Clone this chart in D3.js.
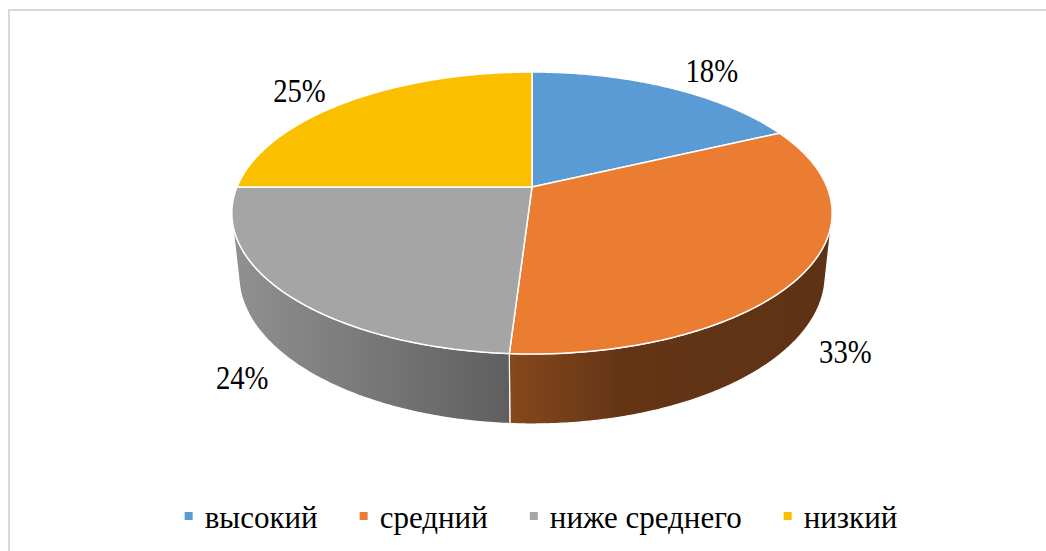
<!DOCTYPE html>
<html>
<head>
<meta charset="utf-8">
<script src="https://cdn.jsdelivr.net/npm/d3@7"></script>
<style>
  html, body { margin: 0; padding: 0; background: #fff; }
  svg { display: block; }
  svg text { font-family: "Liberation Serif", "Times New Roman", serif; }
</style>
</head>
<body>
<svg id="chart" width="1046" height="551"></svg>
<script>
// данные диаграммы
const categories = ["высокий", "средний", "ниже среднего", "низкий"];
const values = [18, 33, 24, 25];
const colors = ["#5B9BD5", "#EB7D32", "#A5A5A5", "#FAC000"];

// сдвиг подписей относительно края сектора (px)
const labelNudge = [[43, -17], [48, 13], [-50, 17], [-48, -11]];

const width = 1046, height = 551;

// параметры перспективы объёмного круга
const cx = 532, cy = 187;
const f = 1419.6, D = 4.812;
const sinA = 0.4617, cosA = 0.887;
const H = 0.239; // толщина

function project(x, y, h) {
    const yc = y * sinA + h * cosA;
    const zc = D + y * cosA - h * sinA;
    return [cx + f * x / zc, cy - f * yc / zc];
}
const rim = (a, h, r = 1) => project(r * Math.sin(a), r * Math.cos(a), h);

const svg = d3.select("#chart");

// рамка
svg.append("rect")
    .attr("x", 9).attr("y", 10)
    .attr("width", width).attr("height", height)
    .attr("fill", "none")
    .attr("stroke", "#D9D9D9")
    .attr("stroke-width", 2);

const pie = d3.pie().sort(null).value(d => d)(values);
const z = d3.scaleOrdinal().domain(categories).range(colors);
const line = d3.line().curve(d3.curveLinearClosed);

function arcPts(a0, a1, h) {
    const n = Math.max(2, Math.ceil((a1 - a0) / 0.01));
    return d3.range(n + 1).map(i => rim(a0 + (a1 - a0) * i / n, h));
}

// градиенты боковой стенки
const defs = svg.append("defs");
const shadeStops = [[0, 0.88], [0.46, 0.575], [0.65, 0.42], [1, 0.40]];
pie.forEach((p, i) => {
    const c = d3.color(colors[i]);
    const g = defs.append("linearGradient")
        .attr("id", "side" + i)
        .attr("gradientUnits", "userSpaceOnUse")
        .attr("x1", cx - 300).attr("x2", cx + 300)
        .attr("y1", 0).attr("y2", 0);
    shadeStops.forEach(([o, k]) => {
        g.append("stop")
            .attr("offset", o)
            .attr("stop-color", d3.rgb(c.r * k, c.g * k, c.b * k));
    });
});

// видимая часть стенки
const vis = Math.acos(-1 / (D * cosA));
const visA = vis, visB = 2 * Math.PI - vis;

const walls = svg.append("g");
pie.forEach((p, i) => {
    const a0 = Math.max(p.startAngle, visA);
    const a1 = Math.min(p.endAngle, visB);
    if (a1 <= a0) return;
    const pts = arcPts(a0, a1, 0).concat(arcPts(a0, a1, -H).reverse());
    walls.append("path")
        .attr("d", line(pts))
        .attr("fill", `url(#side${i})`)
        .attr("stroke", "#fff")
        .attr("stroke-width", 1.2)
        .attr("stroke-linejoin", "round");
});

// верхняя поверхность
svg.append("g")
    .selectAll("path")
    .data(pie)
    .join("path")
    .attr("d", p => line([project(0, 0, 0)].concat(arcPts(p.startAngle, p.endAngle, 0))))
    .attr("fill", (p, i) => z(categories[i]))
    .attr("stroke", "#fff")
    .attr("stroke-width", 1.5)
    .attr("stroke-linejoin", "round");

// подписи процентов
const total = d3.sum(values);
svg.append("g")
    .selectAll("text")
    .data(pie)
    .join("text")
    .attr("transform", (p, i) => {
        const m = (p.startAngle + p.endAngle) / 2;
        const front = Math.cos(m) < 0;
        const [x, y] = rim(m, front ? -H : 0);
        return `translate(${x + labelNudge[i][0]},${y + labelNudge[i][1]}) scale(0.87,1)`;
    })
    .attr("text-anchor", "middle")
    .attr("dy", "0.35em")
    .style("font-size", "33px")
    .attr("fill", "#000")
    .text(p => Math.round(p.value / total * 100) + "%");

// легенда
const legend = svg.append("g");
const items = legend.selectAll("g")
    .data(categories)
    .join("g");
items.append("rect")
    .attr("width", 8).attr("height", 8)
    .attr("y", -16)
    .attr("fill", d => z(d));
items.append("text")
    .attr("x", 20)
    .style("font-size", "31px")
    .attr("fill", "#000")
    .text(d => d);

let xpos = 0;
items.each(function () {
    const w = d3.select(this).select("text").node().getComputedTextLength();
    d3.select(this).attr("transform", `translate(${xpos},0)`);
    xpos += 20 + w + 42;
});
const legendW = xpos - 42;
legend.attr("transform", `translate(${541 - legendW / 2},528)`);
</script>
</body>
</html>
